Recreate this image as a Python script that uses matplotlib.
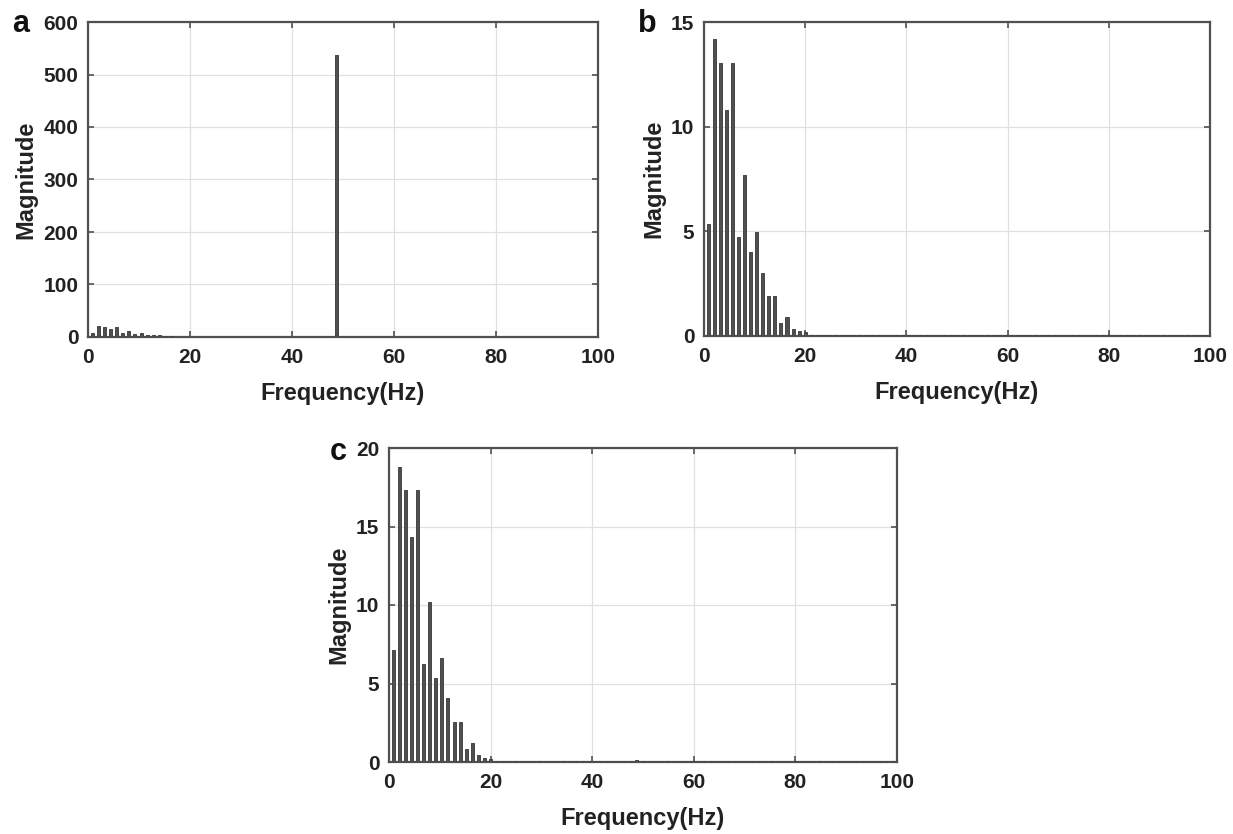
import numpy as np
import matplotlib
matplotlib.use("Agg")
import matplotlib.pyplot as plt

plt.rcParams['font.family'] = ['Liberation Sans', 'DejaVu Sans']
plt.rcParams['font.weight'] = 'bold'

# FFT bins (Hz)
f0 = 0.8
df = 1.2
nbins = 83
freqs = f0 + df * np.arange(nbins)

mag_a = [8, 21, 19, 16, 19, 8, 11, 6, 8, 4, 3, 3, 1.2, 1.5, 0.8, 0.6, 0.5, 0.5, 0.4, 0.4,
         0.4, 0.4, 0.4, 0.4, 0.4, 0.4, 0.4, 0.4, 0.4, 0.4, 0.4, 0.4, 0.4, 0.4, 0.4, 0.4, 0.4, 0.4, 0.4, 0.5,
         537, 0.5, 0.4, 0.4, 0.4, 0.4, 0.4, 0.4, 0.4, 0.4, 0.4, 0.4, 0.4, 0.4, 0.4, 0.4, 0.4, 0.4, 0.4, 0.4,
         0.4, 0.4, 0.4, 0.4, 0.4, 0.4, 0.4, 0.4, 0.4, 0.4, 0.4, 0.4, 0.4, 0.4, 0.4, 0.4, 0.4, 0.4, 0.4, 0.4,
         0.4, 0.4, 0.4]

mag_b = [5.36, 14.2, 13.05, 10.8, 13.05, 4.72, 7.67, 4.03, 4.96, 3.03, 1.91, 1.93, 0.64, 0.93, 0.32, 0.24, 0.18, 0.06, 0.04, 0.04,
         0.03, 0.03, 0.03, 0.03, 0.03, 0.03, 0.03, 0.03, 0.03, 0.03, 0.03, 0.03, 0.03, 0.03, 0.03, 0.03, 0.03, 0.03, 0.03, 0.03,
         0.04, 0.03, 0.03, 0.03, 0.03, 0.03, 0.03, 0.03, 0.03, 0.03, 0.03, 0.03, 0.03, 0.03, 0.03, 0.03, 0.03, 0.03, 0.03, 0.03,
         0.03, 0.03, 0.03, 0.03, 0.03, 0.03, 0.03, 0.03, 0.03, 0.03, 0.03, 0.03, 0.03, 0.03, 0.03, 0.03, 0.03, 0.03, 0.03, 0.03,
         0.03, 0.03, 0.03]

mag_c = [7.13, 18.8, 17.3, 14.36, 17.3, 6.23, 10.2, 5.38, 6.62, 4.09, 2.55, 2.55, 0.85, 1.23, 0.43, 0.28, 0.19, 0.07, 0.05, 0.04,
         0.04, 0.04, 0.04, 0.04, 0.04, 0.04, 0.04, 0.04, 0.04, 0.04, 0.04, 0.04, 0.04, 0.04, 0.04, 0.04, 0.04, 0.04, 0.04, 0.06,
         0.12, 0.06, 0.04, 0.04, 0.04, 0.04, 0.04, 0.04, 0.04, 0.04, 0.04, 0.04, 0.04, 0.04, 0.04, 0.04, 0.04, 0.04, 0.04, 0.04,
         0.04, 0.04, 0.04, 0.04, 0.04, 0.04, 0.04, 0.04, 0.04, 0.04, 0.04, 0.04, 0.04, 0.04, 0.04, 0.04, 0.04, 0.04, 0.04, 0.04,
         0.04, 0.04, 0.04]

xticks = [0, 20, 40, 60, 80, 100]
yticks_a = [0, 100, 200, 300, 400, 500, 600]
yticks_b = [0, 5, 10, 15]
yticks_c = [0, 5, 10, 15, 20]

W, H = 1233, 834
fig = plt.figure(figsize=(W / 100, H / 100), dpi=100)


def panel(rect, mags, yticks, letter, letter_xy):
    l, t, r, b = rect
    ax = fig.add_axes([l / W, 1 - b / H, (r - l) / W, (b - t) / H])
    ax.bar(freqs, mags, width=0.6, color='#505050', edgecolor='#454545', linewidth=0.7, zorder=3)
    ax.set_xlim(0, 100)
    ax.set_ylim(yticks[0], yticks[-1])
    ax.set_xticks(xticks)
    ax.set_yticks(yticks)
    ax.grid(True, color='#e0e0e0', linewidth=0.9, zorder=0)
    ax.set_axisbelow(True)
    for s in ax.spines.values():
        s.set_linewidth(1.6)
        s.set_color('#505050')
    ax.tick_params(direction='in', length=4, width=1.2, color='#505050',
                   top=True, right=True, labelsize=15)
    ax.tick_params(axis='x', pad=8)
    ax.tick_params(axis='y', pad=7)
    for lab in ax.get_xticklabels() + ax.get_yticklabels():
        lab.set_fontweight('bold')
        lab.set_color('#222222')
    ax.set_xlabel('Frequency(Hz)', fontsize=17, fontweight='bold', color='#222222', labelpad=11)
    ax.set_ylabel('Magnitude', fontsize=17, fontweight='bold', color='#222222', labelpad=4)
    fig.text(letter_xy[0] / W, 1 - letter_xy[1] / H, letter, fontsize=22,
             fontweight='bold', ha='left', va='center', color='#111111')
    return ax


panel((88, 22, 598, 337), mag_a, yticks_a, 'a', (12, 24))
panel((704, 22, 1210, 336), mag_b, yticks_b, 'b', (638, 24))
panel((389, 448, 897, 762), mag_c, yticks_c, 'c', (330, 452))

fig.savefig('out.png', dpi=100)
